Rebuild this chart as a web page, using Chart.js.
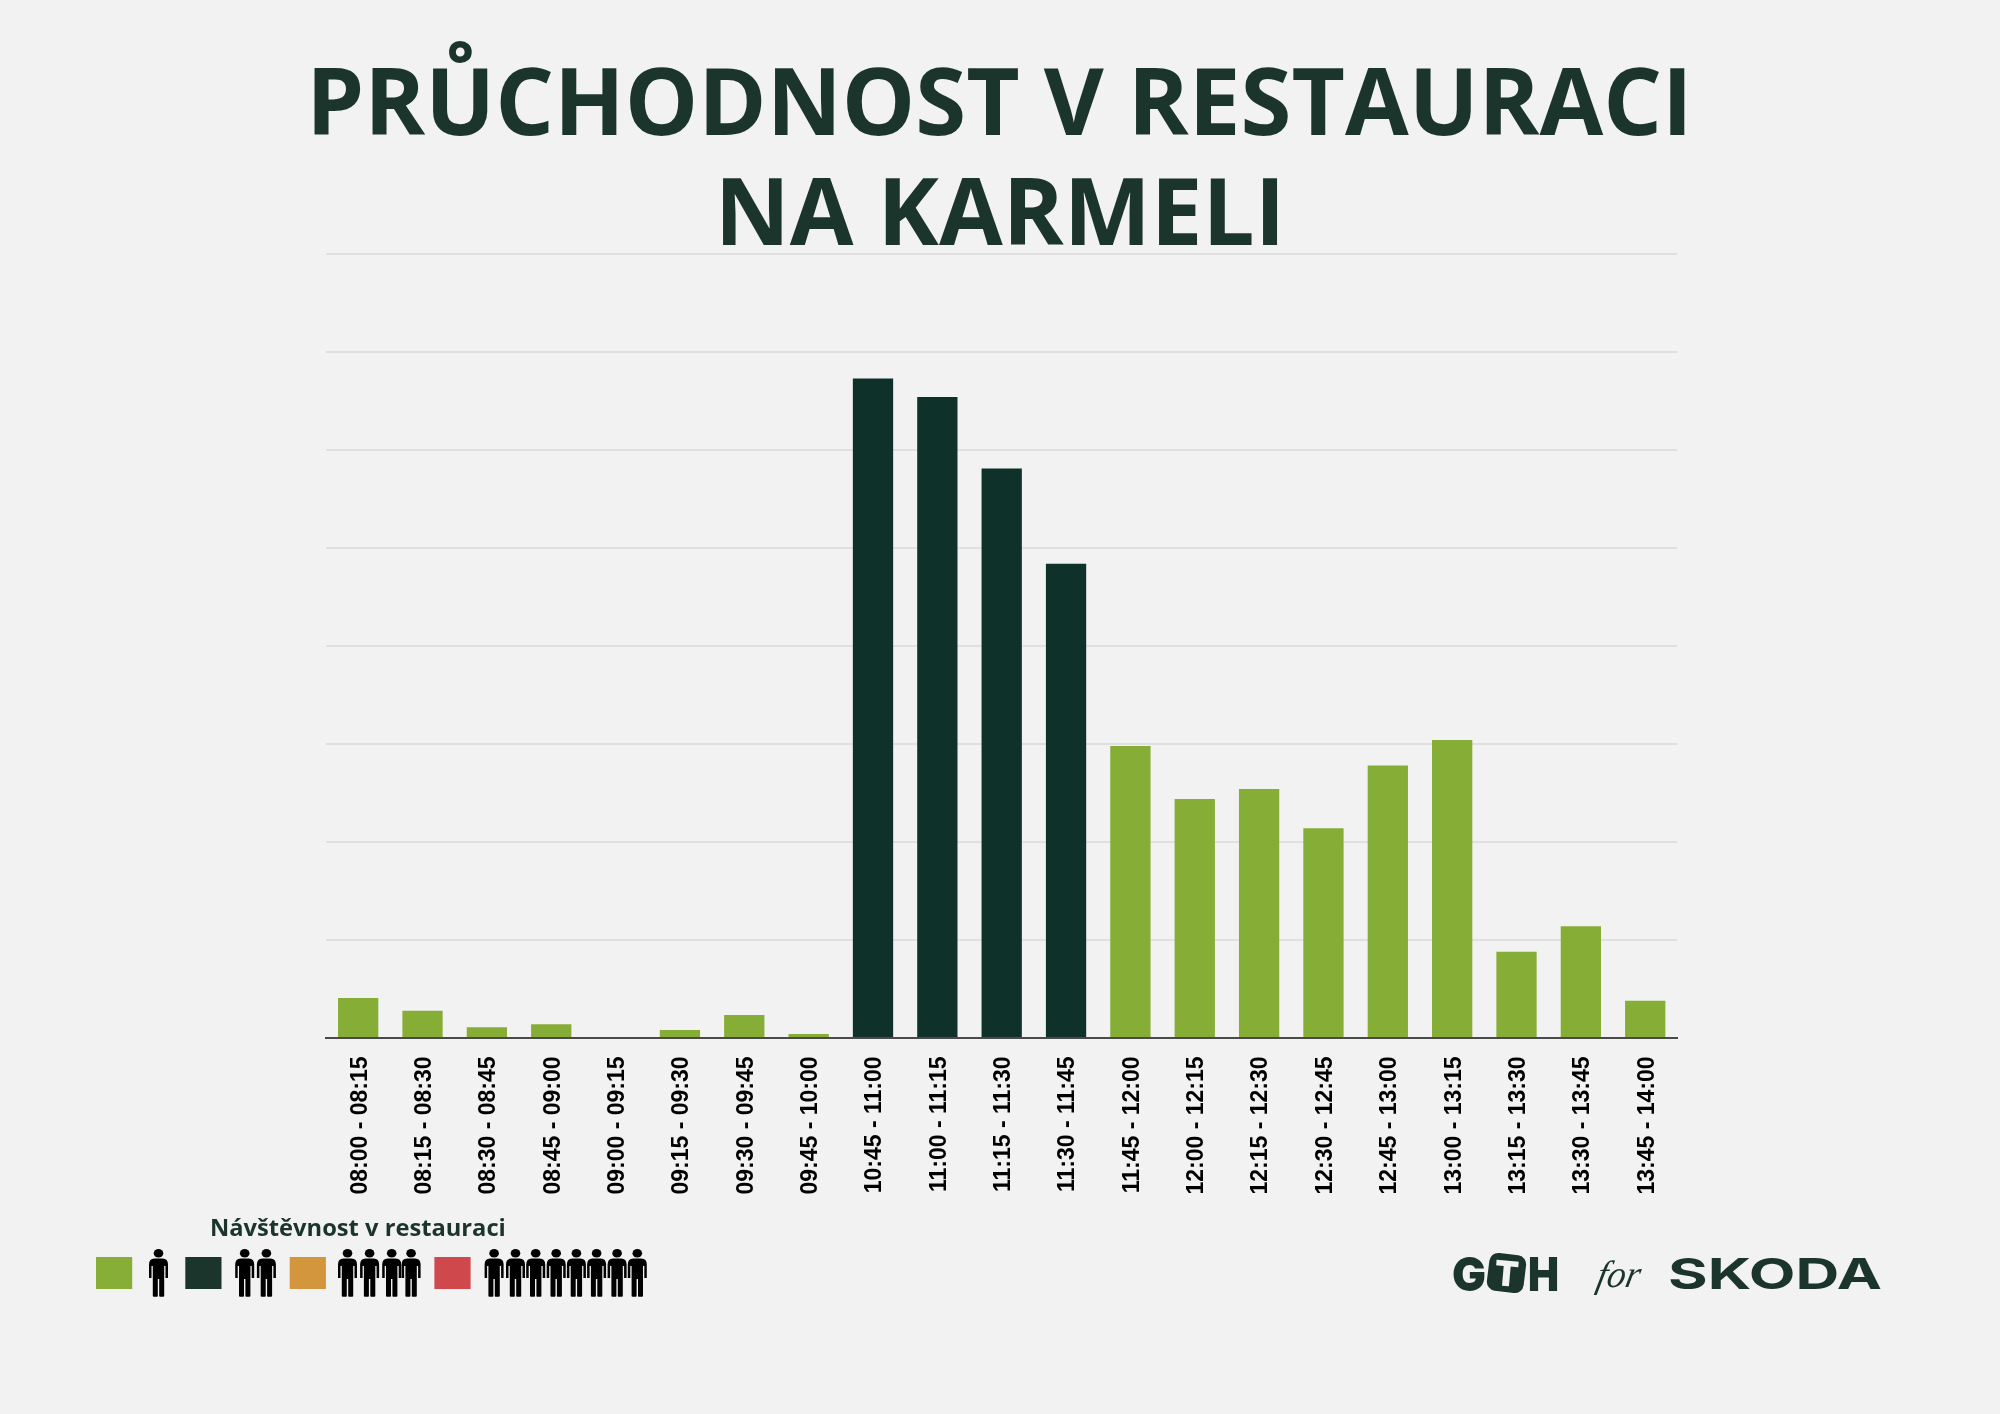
<!DOCTYPE html>
<html lang="cs">
<head>
<meta charset="utf-8">
<title>Průchodnost v restauraci na Karmeli</title>
<script src="https://cdn.jsdelivr.net/npm/chart.js@4"></script>
<style>
html,body{margin:0;padding:0;background:#f2f2f2;width:2000px;height:1414px;overflow:hidden}
canvas,svg{position:absolute;left:0;top:0}
</style>
</head>
<body>
<canvas id="c" width="2000" height="1414"></canvas>
<svg id="o" width="2000" height="1414" xmlns="http://www.w3.org/2000/svg"></svg>
<script>
const titleLines = ["PRŮCHODNOST V RESTAURACI", "NA KARMELI"];
const legendTitle = "Návštěvnost v restauraci";
const categories = ["08:00 - 08:15","08:15 - 08:30","08:30 - 08:45","08:45 - 09:00","09:00 - 09:15","09:15 - 09:30","09:30 - 09:45","09:45 - 10:00","10:45 - 11:00","11:00 - 11:15","11:15 - 11:30","11:30 - 11:45","11:45 - 12:00","12:00 - 12:15","12:15 - 12:30","12:30 - 12:45","12:45 - 13:00","13:00 - 13:15","13:15 - 13:30","13:30 - 13:45","13:45 - 14:00"];
const visitors = [4.08,2.79,1.09,1.40,0,0.82,2.35,0.41,67.3,65.4,58.1,48.4,29.8,24.4,25.4,21.4,27.8,30.4,8.8,11.4,3.8];
const levels = [0,0,0,0,0,0,0,0,1,1,1,1,0,0,0,0,0,0,0,0,0];
const yTicksMax = 80;
const yTicksStep = 10;

const barColors = ["#86ad36", "#0e3229"];
const ink = "#1b342c";

new Chart(document.getElementById("c"), {
  type: "bar",
  data: {
    labels: categories,
    datasets: [{
      data: visitors,
      backgroundColor: c => barColors[levels[c.dataIndex]],
      borderWidth: 0,
      barPercentage: 0.626,
      categoryPercentage: 1
    }]
  },
  options: {
    responsive: false,
    animation: false,
    layout: { padding: { left: 326, right: 322.6, top: 254, bottom: 200 } },
    plugins: { legend: { display: false }, tooltip: { enabled: false } },
    scales: {
      x: {
        afterFit: s => { s.height = 176; },
        grid: { display: false, drawTicks: false },
        border: { display: true, color: "#4a4a4a", width: 2 },
        ticks: {
          minRotation: 90, maxRotation: 90, autoSkip: false, padding: 18.5, labelOffset: 2,
          color: "#000",
          font: { family: "'Liberation Sans'", size: 23, weight: "bold" }
        }
      },
      y: {
        min: 0, max: yTicksMax,
        afterFit: s => { s.width = 0; },
        ticks: { display: false, stepSize: yTicksStep },
        grid: { color: "#e0e0e0", lineWidth: 2, drawTicks: false },
        border: { display: false }
      }
    }
  }
});

const NS = "http://www.w3.org/2000/svg";
const svg = document.getElementById("o");
function el(name, attrs, text, parent) {
  const e = document.createElementNS(NS, name);
  for (const k in attrs) e.setAttribute(k, attrs[k]);
  if (text != null) e.textContent = text;
  (parent || svg).appendChild(e);
  return e;
}
const titleFont = "'Open Sans'";
el("text", {x: 999.5, y: 134.5, "text-anchor": "middle", "font-family": titleFont, "font-weight": 700, "font-size": 92.4, fill: ink}, titleLines[0]);
el("text", {x: 1000, y: 244.5, "text-anchor": "middle", "font-family": titleFont, "font-weight": 700, "font-size": 92.4, fill: ink}, titleLines[1]);

// legend
el("text", {x: 210, y: 1236, "font-family": titleFont, "font-weight": 700, "font-size": 23.7, fill: ink}, legendTitle);
const swatches = [[96,"#87ae37"],[185.3,"#1b342c"],[289.7,"#d3963c"],[434.4,"#cf484c"]];
swatches.forEach(s => el("rect", {x: s[0], y: 1257, width: 36.2, height: 32, fill: s[1]}));
const personX = [158.5, 244.7, 266.4, 347.5, 369.6, 391.7, 411.1, 494.1, 515.5, 535.7, 556.2, 576.4, 596.6, 617.1, 637.3];
const personPath = "M-4,9.5H4Q9.5,9.5 9.5,15.5V29H7V17H5.7V47Q5.7,47.7 4.7,47.7H1.5Q.7,47.7 .7,47V30H-.7V47Q-.7,47.7 -1.5,47.7H-4.7Q-5.7,47.7 -5.7,47V17H-7V29H-9.5V15.5Q-9.5,9.5 -4,9.5Z";
personX.forEach(x => {
  const g = el("g", {transform: `translate(${x},1249)`, fill: "#000"});
  el("ellipse", {cx: 0, cy: 4.3, rx: 4.8, ry: 4.3}, null, g);
  el("path", {d: personPath}, null, g);
});

// logos
const logoFont = "Inter";
el("text", {x: 1452, y: 1290.7, "font-family": logoFont, "font-weight": 900, "font-size": 47, fill: ink, textLength: 34, lengthAdjust: "spacingAndGlyphs"}, "G");
el("rect", {x: 1488, y: 1254, width: 37, height: 38, rx: 9, fill: ink, transform: "rotate(7 1506.5 1273)"});
el("text", {x: 1506.5, y: 1286, "text-anchor": "middle", "font-family": logoFont, "font-weight": 900, "font-size": 35, fill: "#f2f2f2", transform: "rotate(5 1506.5 1273)"}, "T");
el("text", {x: 1528, y: 1290.7, "font-family": logoFont, "font-weight": 900, "font-size": 47, fill: ink, textLength: 31, lengthAdjust: "spacingAndGlyphs"}, "H");
el("text", {x: 0, y: 0, transform: "translate(1595,1287) skewX(-12)", "font-family": "'Liberation Serif'", "font-style": "italic", "font-size": 38, fill: ink, textLength: 43, lengthAdjust: "spacingAndGlyphs"}, "for");
el("text", {x: 1668, y: 1288.5, "font-family": logoFont, "font-weight": 700, "font-size": 42.6, fill: ink, textLength: 214, lengthAdjust: "spacingAndGlyphs"}, "SKODA");
</script>
</body>
</html>
